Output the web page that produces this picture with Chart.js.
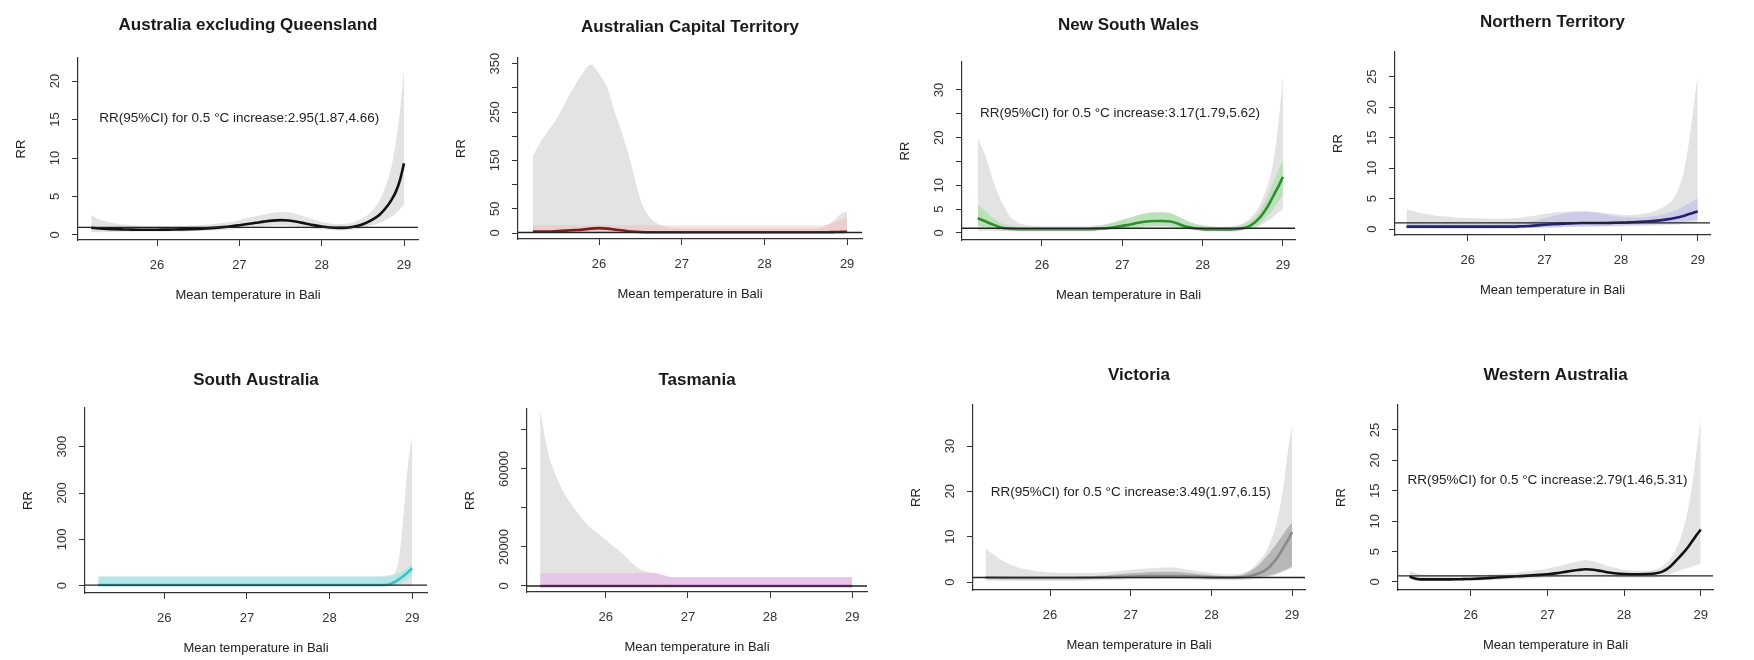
<!DOCTYPE html>
<html><head><meta charset="utf-8">
<script src="https://cdn.jsdelivr.net/npm/chart.js@4.4.1/dist/chart.umd.min.js"></script>
<style>
html,body{margin:0;padding:0;background:#fff;}
#wrap{position:relative;width:1754px;height:660px;overflow:hidden;background:#fff;}
canvas{position:absolute;}
</style></head><body><div id="wrap"></div>
<script>
// ---------- shared x grid (mean temperature in Bali, °C) ----------
const temps = [25.2,25.3,25.4,25.5,25.6,25.7,25.8,25.9,26.0,26.1,26.2,26.3,26.4,26.5,26.6,26.7,26.8,26.9,27.0,27.1,27.2,27.3,27.4,27.5,27.6,27.7,27.8,27.9,28.0,28.1,28.2,28.3,28.4,28.5,28.6,28.7,28.8,28.85,28.9,28.95,29.0];
const xTickVals = [26,27,28,29];
const refRR = 1;

// ---------- Australia excluding Queensland ----------
const ausExLine = [0.95,0.85,0.78,0.74,0.72,0.70,0.69,0.69,0.69,0.70,0.71,0.73,0.76,0.80,0.86,0.93,1.02,1.13,1.27,1.42,1.58,1.74,1.87,1.93,1.88,1.72,1.50,1.28,1.10,0.98,0.92,0.95,1.10,1.40,1.90,2.60,3.80,4.60,5.60,7.10,9.30];
const ausExGrayHi = [2.6,2.0,1.7,1.5,1.35,1.25,1.2,1.15,1.15,1.15,1.15,1.17,1.2,1.25,1.32,1.42,1.55,1.72,1.95,2.2,2.45,2.7,2.9,3.0,2.95,2.7,2.35,2.0,1.7,1.5,1.4,1.45,1.7,2.2,3.0,4.4,7.0,9.0,12,16,21.5];
const ausExGrayLo = [0.35,0.36,0.38,0.4,0.42,0.43,0.44,0.44,0.44,0.45,0.46,0.47,0.49,0.51,0.55,0.6,0.66,0.72,0.8,0.9,1.0,1.1,1.18,1.22,1.18,1.08,0.95,0.82,0.72,0.65,0.62,0.63,0.72,0.88,1.2,1.55,2.1,2.4,2.8,3.3,4.0];
const ausExYTicks = [0,5,10,15,20];
const ausExYLabels = ['0','5','10','15','20'];

// ---------- Australian Capital Territory ----------
const actLine = [3,3,3,4,5,6,7,9,10,9,7,5,3,2,1.5,1.5,1.5,1.5,1.5,1.5,1.5,1.5,1.5,1.5,1.5,1.5,1.5,1.5,1.5,1.5,1.5,1.5,1.5,1.5,1.5,1.5,1.8,2,2.2,2.4,2.6];
const actGrayHi = [160,190,215,240,272,303,330,348,330,300,245,195,135,70,35,20,13,11,10,10,10,10,10,10,10,10,10,10,10,10,10,10,10,10,10,12,20,28,36,42,44];
const actTintHi = [16,16,16,16,16,16,16,16,16,16,16,16,16,16,16,16,16,16,16,16,16,16,16,16,16,16,16,16,16,16,16,16,16,16,16,16,20,23,26,29,32];
const actYTicks = [0,50,100,150,200,250,300,350];
const actYLabels = ['0','50','','150','','250','','350'];

// ---------- New South Wales ----------
const nswLine = [3.1,2.4,1.7,1.1,0.9,0.8,0.78,0.78,0.78,0.78,0.78,0.78,0.78,0.78,0.8,0.9,1.0,1.2,1.5,1.8,2.15,2.4,2.5,2.5,2.4,1.9,1.3,1.0,0.82,0.75,0.72,0.72,0.78,1.0,1.6,3.0,5.3,6.8,8.4,10.0,11.8];
const nswGrayHi = [20,16,10.5,6.5,3.5,2.2,1.7,1.5,1.4,1.4,1.4,1.4,1.4,1.4,1.45,1.6,1.9,2.3,2.8,3.3,3.8,4.2,4.4,4.4,4.2,3.5,2.6,2.0,1.6,1.4,1.3,1.3,1.45,2.0,3.2,5.5,9.5,12.5,17,24,33];
const nswGrayLo = [0.5,0.45,0.42,0.4,0.4,0.4,0.4,0.4,0.4,0.4,0.4,0.4,0.4,0.4,0.42,0.48,0.55,0.65,0.8,0.95,1.1,1.25,1.35,1.35,1.25,1.05,0.8,0.6,0.5,0.45,0.42,0.42,0.45,0.55,0.85,1.4,2.4,3.0,3.7,4.4,5.0];
const nswTintHi = [6,4.5,3,2,1.5,1.3,1.2,1.2,1.2,1.2,1.2,1.2,1.2,1.2,1.25,1.45,1.8,2.2,2.7,3.2,3.7,4.1,4.3,4.3,4.1,3.4,2.5,1.9,1.5,1.3,1.2,1.2,1.35,1.8,2.6,4.3,7.5,9.5,11.5,13.5,15.5];
const nswTintLo = [1.5,1.2,0.8,0.6,0.5,0.5,0.5,0.5,0.5,0.5,0.5,0.5,0.5,0.5,0.52,0.6,0.7,0.8,0.95,1.1,1.25,1.35,1.4,1.4,1.35,1.15,0.9,0.7,0.6,0.55,0.52,0.52,0.55,0.7,1.1,1.8,3.5,4.4,5.5,6.7,8.0];
const nswYTicks = [0,5,10,15,20,25,30];
const nswYLabels = ['0','5','10','','20','','30'];

// ---------- Northern Territory ----------
const ntLine = [0.4,0.4,0.4,0.4,0.4,0.4,0.4,0.4,0.4,0.4,0.4,0.4,0.4,0.4,0.4,0.45,0.5,0.6,0.7,0.78,0.85,0.9,0.95,0.98,1.0,1.0,1.0,1.02,1.05,1.1,1.15,1.22,1.3,1.42,1.58,1.8,2.1,2.3,2.5,2.7,2.9];
const ntGrayHi = [3.3,2.9,2.6,2.4,2.2,2.05,1.95,1.85,1.8,1.75,1.72,1.7,1.7,1.72,1.78,1.9,2.05,2.25,2.45,2.62,2.75,2.85,2.9,2.9,2.85,2.75,2.6,2.45,2.35,2.3,2.35,2.5,2.8,3.3,4.0,5.3,8.5,11.5,15.5,20.5,25.3];
const ntGrayLo = [0.08,0.08,0.08,0.08,0.08,0.08,0.08,0.08,0.08,0.08,0.08,0.08,0.08,0.08,0.08,0.1,0.12,0.15,0.2,0.25,0.3,0.33,0.35,0.36,0.36,0.36,0.37,0.4,0.42,0.45,0.48,0.52,0.56,0.6,0.65,0.7,0.8,0.85,0.9,0.95,1.0];
const ntTintHi = [0.9,0.85,0.82,0.8,0.8,0.8,0.8,0.8,0.8,0.8,0.8,0.8,0.8,0.85,0.95,1.05,1.2,1.45,1.8,2.1,2.4,2.65,2.8,2.85,2.8,2.65,2.4,2.2,2.0,1.9,1.9,1.95,2.1,2.3,2.6,3.0,3.6,3.95,4.3,4.65,5.0];
const ntTintLo = [0.1,0.1,0.1,0.1,0.1,0.1,0.1,0.1,0.1,0.1,0.1,0.1,0.1,0.1,0.1,0.12,0.15,0.2,0.25,0.3,0.35,0.38,0.4,0.42,0.43,0.45,0.48,0.52,0.58,0.62,0.66,0.7,0.75,0.82,0.9,1.0,1.15,1.25,1.35,1.45,1.6];
const ntYTicks = [0,5,10,15,20,25];
const ntYLabels = ['0','5','10','15','20','25'];

// ---------- South Australia ----------
const saLine = [1.5,1.5,1.5,1.5,1.5,1.5,1.5,1.5,1.5,1.5,1.5,1.5,1.5,1.5,1.5,1.5,1.5,1.5,1.5,1.5,1.5,1.5,1.5,1.5,1.5,1.5,1.5,1.5,1.5,1.5,1.5,1.5,1.5,1.5,1.5,2.0,9,15,21.5,29,37.5];
const saGrayHi = [20,20,20,20,20,20,20,20,20,20,20,20,20,20,20,20,20,20,20,20,20,20,20,20,20,20,20,20,20,20,20,20,20,20,20,22,30,70,160,262,321];
const saTintHi = [20,20,20,20,20,20,20,20,20,20,20,20,20,20,20,20,20,20,20,20,20,20,20,20,20,20,20,20,20,20,20,20,20,20,20,20,24,28,33,39,45];
const saTintLo = [0,0,0,0,0,0,0,0,0,0,0,0,0,0,0,0,0,0,0,0,0,0,0,0,0,0,0,0,0,0,0,0,0,0,0,0,0,3,8,14,22];
const saYTicks = [0,100,200,300];
const saYLabels = ['0','100','200','300'];

// ---------- Tasmania ----------
const tasLine = [1.2,1.2,1.1,1.1,1.1,1.1,1.0,1.0,1.0,1.0,1.0,1.0,1.0,1.0,1.0,1.0,1.0,1.0,1.0,1.0,1.0,1.0,1.0,1.0,1.0,1.0,1.0,1.0,1.0,1.0,1.0,1.0,1.0,1.0,1.0,1.0,1.0,1.0,1.0,1.0,1.0];
const tasGrayHi = [90000,68000,56000,47000,40700,35000,30400,27000,23600,20000,16800,12500,9000,7300,6700,5500,4600,4600,4600,4600,4600,4600,4600,4600,4600,4600,4600,4600,4600,4600,4600,4600,4600,4600,4600,4600,4600,4600,4600,4600,4600];
const tasTintHi = [6700,6700,6700,6700,6700,6700,6700,6700,6700,6700,6700,6700,6700,6700,6700,5500,4600,4600,4600,4600,4600,4600,4600,4600,4600,4600,4600,4600,4600,4600,4600,4600,4600,4600,4600,4600,4600,4600,4600,4600,4600];
const tasYTicks = [0,20000,40000,60000,80000];
const tasYLabels = ['0','20000','','60000',''];

// ---------- Victoria ----------
const vicLine = [1.0,0.95,0.92,0.9,0.9,0.9,0.9,0.9,0.9,0.9,0.9,0.9,0.92,0.95,1.0,1.05,1.1,1.15,1.2,1.25,1.3,1.32,1.33,1.33,1.3,1.25,1.18,1.1,1.02,0.97,0.95,0.97,1.1,1.45,2.0,3.0,5.0,6.3,7.8,9.3,11.0];
const vicGrayHi = [7.4,6.0,4.8,3.9,3.2,2.8,2.5,2.3,2.1,2.0,2.0,2.0,2.0,2.0,2.05,2.15,2.3,2.5,2.7,2.85,3.0,3.1,3.2,3.2,3.1,2.8,2.5,2.2,2.0,1.8,1.7,1.7,2.0,3.0,4.8,7.5,12.5,16.5,22,29,34.5];
const vicGrayLo = [0.3,0.3,0.3,0.3,0.3,0.3,0.3,0.3,0.3,0.3,0.3,0.3,0.32,0.35,0.38,0.42,0.46,0.5,0.55,0.6,0.65,0.68,0.7,0.7,0.68,0.63,0.57,0.5,0.45,0.4,0.38,0.38,0.42,0.55,0.8,1.1,1.6,1.9,2.3,2.7,3.1];
const vicTintHi = [1.3,1.25,1.2,1.2,1.2,1.2,1.2,1.2,1.2,1.2,1.2,1.2,1.25,1.3,1.4,1.5,1.65,1.8,1.95,2.05,2.15,2.2,2.25,2.25,2.2,2.05,1.85,1.65,1.5,1.4,1.35,1.4,1.7,2.6,4.0,6.0,8.3,9.5,10.8,12.0,13.2];
const vicTintLo = [0.75,0.72,0.7,0.7,0.7,0.7,0.7,0.7,0.7,0.7,0.7,0.7,0.72,0.75,0.78,0.8,0.82,0.85,0.88,0.9,0.92,0.93,0.94,0.94,0.93,0.9,0.86,0.82,0.78,0.75,0.72,0.72,0.78,0.9,1.1,1.4,1.9,2.2,2.6,3.0,3.4];
const vicYTicks = [0,10,20,30];
const vicYLabels = ['0','10','20','30'];

// ---------- Western Australia ----------
const waLine = [0.88,0.5,0.42,0.42,0.42,0.43,0.44,0.47,0.5,0.55,0.62,0.7,0.78,0.85,0.93,1.0,1.08,1.17,1.28,1.42,1.6,1.8,1.98,2.08,2.0,1.8,1.55,1.38,1.3,1.28,1.28,1.3,1.38,1.7,2.5,3.8,5.2,6.0,6.9,7.8,8.6];
const waGrayHi = [1.8,1.4,1.2,1.1,1.1,1.1,1.1,1.1,1.12,1.15,1.2,1.27,1.35,1.45,1.57,1.7,1.85,2.0,2.2,2.5,2.8,3.1,3.4,3.6,3.4,3.0,2.6,2.3,2.0,1.9,1.8,1.85,2.0,2.6,3.8,6.0,10,13,17,22,27];
const waGrayLo = [0.4,0.2,0.15,0.15,0.15,0.16,0.17,0.19,0.21,0.24,0.28,0.33,0.38,0.43,0.48,0.53,0.58,0.64,0.72,0.82,0.92,1.02,1.12,1.18,1.12,1.0,0.88,0.78,0.72,0.7,0.7,0.72,0.78,0.95,1.3,1.8,2.2,2.4,2.6,2.8,3.0];
const waYTicks = [0,5,10,15,20,25];
const waYLabels = ['0','5','10','15','20','25'];

// ---------- panel layout / style ----------
const FONT = '"Liberation Sans", Arial, Helvetica, sans-serif';
const GRAY = 'rgba(200,200,200,0.5)';
const AXC = '#333';
const LEFT = 78, TOP = 58, RIGHT = 12, BOTTOM = 64;

const panels = [
  {title:'Australia excluding Queensland', plot:[78,58,418,240], xr:[25.04,29.17], yr:[-0.65,22.99], gap:33,
   line:ausExLine, grayHi:ausExGrayHi, grayLo:ausExGrayLo, yTicks:ausExYTicks, yLabels:ausExYLabels,
   color:'#111111', note:'RR(95%CI) for 0.5 °C increase:2.95(1.87,4.66)', noteAt:[27,15.2]},
  {title:'Australian Capital Territory', plot:[518,58,862,239], xr:[25.02,29.18], yr:[-12.4,361.8], gap:31,
   line:actLine, grayHi:actGrayHi, tintHi:actTintHi, tint:'rgba(255,160,160,0.30)', yTicks:actYTicks, yLabels:actYLabels,
   color:'#7f1d1d'},
  {title:'New South Wales', plot:[962,62,1295,240], xr:[25.004,29.15], yr:[-1.47,35.87], gap:37,
   line:nswLine, grayHi:nswGrayHi, grayLo:nswGrayLo, tintHi:nswTintHi, tintLo:nswTintLo, tint:'rgba(110,220,110,0.35)',
   yTicks:nswYTicks, yLabels:nswYLabels, color:'#2f8f2f', note:'RR(95%CI) for 0.5 °C increase:3.17(1.79,5.62)', noteAt:[26.97,25.2]},
  {title:'Northern Territory', plot:[1395,52,1710,235], xr:[25.05,29.16], yr:[-0.98,29.06], gap:30,
   line:ntLine, grayHi:ntGrayHi, grayLo:ntGrayLo, tintHi:ntTintHi, tintLo:ntTintLo, tint:'rgba(160,160,240,0.35)',
   yTicks:ntYTicks, yLabels:ntYLabels, color:'#23236e'},
  {title:'South Australia', plot:[85,408,427,593], xr:[25.04,29.18], yr:[-15.8,383.5], gap:28,
   line:saLine, grayHi:saGrayHi, tintHi:saTintHi, tintLo:saTintLo, tint:'rgba(120,235,235,0.45)',
   yTicks:saYTicks, yLabels:saYLabels, color:'#3fbfbf'},
  {title:'Tasmania', plot:[527,409,867,592], xr:[25.04,29.18], yr:[-3077,90769], gap:29,
   line:tasLine, grayHi:tasGrayHi, tintHi:tasTintHi, tint:'rgba(235,160,235,0.40)',
   yTicks:tasYTicks, yLabels:tasYLabels, color:'#9a4e9a'},
  {title:'Victoria', plot:[973,405,1305,590], xr:[25.045,29.16], yr:[-1.76,39.05], gap:30,
   line:vicLine, grayHi:vicGrayHi, grayLo:vicGrayLo, tintHi:vicTintHi, tintLo:vicTintLo, tint:'rgba(110,110,110,0.38)',
   yTicks:vicYTicks, yLabels:vicYLabels, color:'#8a8a8a', note:'RR(95%CI) for 0.5 °C increase:3.49(1.97,6.15)', noteAt:[27,19.9]},
  {title:'Western Australia', plot:[1398,405,1713,590], xr:[25.05,29.16], yr:[-1.32,29.1], gap:30,
   line:waLine, grayHi:waGrayHi, grayLo:waGrayLo, yTicks:waYTicks, yLabels:waYLabels,
   color:'#111111', note:'RR(95%CI) for 0.5 °C increase:2.79(1.46,5.31)', noteAt:[27,16.8]}
];

const pts = arr => temps.map((t, i) => ({x: t, y: arr[i]}));

function makeDecor(p) {
  return {
    id: 'decor',
    afterDatasetsDraw(chart) {
      const {ctx, chartArea: a, scales: {x, y}} = chart;
      ctx.save();
      const yy = y.getPixelForValue(refRR);
      ctx.strokeStyle = '#222'; ctx.lineWidth = 1.3;
      ctx.beginPath(); ctx.moveTo(a.left, yy); ctx.lineTo(a.right, yy); ctx.stroke();
      if (p.note) {
        ctx.font = '13.5px ' + FONT; ctx.fillStyle = '#222';
        ctx.textAlign = 'center'; ctx.textBaseline = 'middle';
        ctx.fillText(p.note, x.getPixelForValue(p.noteAt[0]), y.getPixelForValue(p.noteAt[1]));
      }
      ctx.restore();
    },
    afterDraw(chart) {
      const {ctx, chartArea: a, scales: {y}} = chart;
      ctx.save();
      ctx.font = 'bold 17px ' + FONT; ctx.fillStyle = '#1a1a1a';
      ctx.textAlign = 'center'; ctx.textBaseline = 'middle';
      ctx.fillText(p.title, (a.left + a.right) / 2, a.top - p.gap);
      ctx.font = '13px ' + FONT; ctx.fillStyle = AXC;
      y.ticks.forEach((t, i) => {
        const lab = p.yLabels[i];
        if (!lab) return;
        ctx.save();
        ctx.translate(a.left - 23, y.getPixelForValue(t.value));
        ctx.rotate(-Math.PI / 2);
        ctx.fillText(lab, 0, 0);
        ctx.restore();
      });
      ctx.restore();
    }
  };
}

const wrap = document.getElementById('wrap');
panels.forEach(p => {
  const [l, t, r, b] = p.plot;
  const W = (r - l) + LEFT + RIGHT, H = (b - t) + TOP + BOTTOM;
  const cv = document.createElement('canvas');
  cv.width = W; cv.height = H;
  cv.style.left = (l - LEFT) + 'px'; cv.style.top = (t - TOP) + 'px';
  cv.style.width = W + 'px'; cv.style.height = H + 'px';
  wrap.appendChild(cv);

  const common = {pointRadius: 0, borderWidth: 0, cubicInterpolationMode: 'monotone'};
  const ds = [{label: 'RR', data: pts(p.line), borderColor: p.color, borderWidth: 2.6, pointRadius: 0, fill: false, cubicInterpolationMode: 'monotone'}];
  if (p.tintHi) {
    ds.push(Object.assign({data: pts(p.tintHi), backgroundColor: p.tint, fill: p.tintLo ? '+1' : 'origin'}, common));
    if (p.tintLo) ds.push(Object.assign({data: pts(p.tintLo), fill: false}, common));
  }
  ds.push(Object.assign({data: pts(p.grayHi), backgroundColor: GRAY, fill: p.grayLo ? '+1' : 'origin'}, common));
  if (p.grayLo) ds.push(Object.assign({data: pts(p.grayLo), fill: false}, common));

  const gridOpt = {display: true, drawOnChartArea: false, drawTicks: true, tickLength: 6, color: AXC, lineWidth: 1};
  const borderOpt = {display: true, color: AXC, width: 1.2};

  new Chart(cv, {
    type: 'line',
    data: {datasets: ds},
    options: {
      responsive: false, animation: false, events: [],
      layout: {padding: {top: TOP, right: RIGHT, left: 0, bottom: 0}},
      plugins: {legend: {display: false}, tooltip: {enabled: false}, title: {display: false}},
      scales: {
        x: {
          type: 'linear', min: p.xr[0], max: p.xr[1],
          afterBuildTicks: s => { s.ticks = xTickVals.map(v => ({value: v})); },
          afterFit: s => { s.height = BOTTOM; },
          grid: gridOpt, border: borderOpt,
          ticks: {font: {family: FONT, size: 13}, color: AXC, padding: 12, maxRotation: 0, autoSkip: false, callback: v => String(v)},
          title: {display: true, text: 'Mean temperature in Bali', color: '#222', font: {family: FONT, size: 13}, padding: {top: 0, bottom: 1}}
        },
        y: {
          type: 'linear', min: p.yr[0], max: p.yr[1],
          afterBuildTicks: s => { s.ticks = p.yTicks.map(v => ({value: v})); },
          afterFit: s => { s.width = LEFT; },
          grid: gridOpt, border: borderOpt,
          ticks: {display: false},
          title: {display: true, text: 'RR', color: '#222', font: {family: FONT, size: 13}, padding: {top: 14, bottom: 0}}
        }
      }
    },
    plugins: [makeDecor(p)]
  });
});
</script>
</body></html>
